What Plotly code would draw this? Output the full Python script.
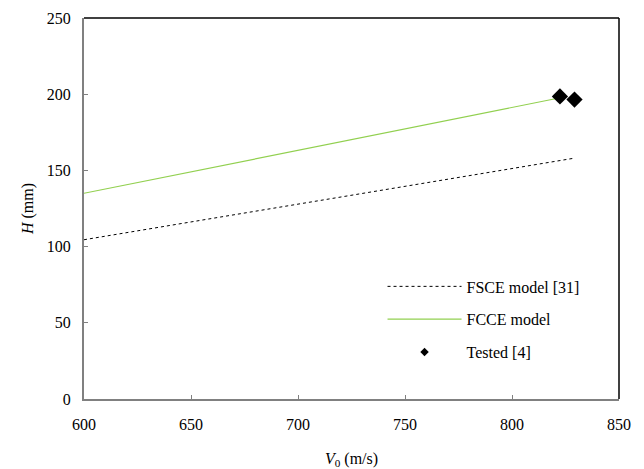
import plotly.graph_objects as go

fsce_x = [600, 829]
fsce_y = [104.5, 158]
fcce_x = [600, 822]
fcce_y = [135, 197.5]
test_x = [822.4, 829.2]
test_y = [198.5, 196.5]

x_ticks = [600, 650, 700, 750, 800, 850]
y_ticks = [0, 50, 100, 150, 200, 250]

font = "Liberation Serif"

fig = go.Figure()
fig.add_trace(go.Scatter(x=fsce_x, y=fsce_y, mode="lines", name="FSCE model [31]",
                         legendgroup="a",
                         line=dict(color="black", width=1, dash="dot")))
fig.add_trace(go.Scatter(x=fcce_x, y=fcce_y, mode="lines", name="FCCE model",
                         legendgroup="b",
                         line=dict(color="#92D050", width=1.2)))
fig.add_trace(go.Scatter(x=test_x, y=test_y, mode="markers", name="Tested [4]",
                         showlegend=False,
                         marker=dict(symbol="diamond", size=12.5, color="black")))
# legend entry with the small legend symbol
fig.add_trace(go.Scatter(x=[None], y=[None], mode="markers", name="Tested [4]",
                         legendgroup="c",
                         marker=dict(symbol="diamond", size=6.5, color="black")))

fig.update_layout(
    width=644, height=469,
    margin=dict(l=84, r=25, t=18, b=70),
    paper_bgcolor="white", plot_bgcolor="white",
    font=dict(family=font, size=16, color="black"),
    showlegend=True,
    legend=dict(x=0.558, y=0.34, xanchor="left", yanchor="top",
                bgcolor="rgba(0,0,0,0)", itemwidth=74, tracegroupgap=9,
                font=dict(family=font, size=16)),
    xaxis=dict(range=[600, 850], tickvals=x_ticks, showgrid=False, zeroline=False,
               showline=True, linecolor="#808080", linewidth=2,
               ticks="inside", ticklen=4, tickcolor="#808080",
               ticklabelstandoff=10, automargin=False,
               tickfont=dict(family=font, size=16),
               title=dict(text="<i>V</i><sub>0</sub> (m/s)", font=dict(family=font, size=16), standoff=22)),
    yaxis=dict(range=[0, 250], tickvals=y_ticks, showgrid=False, zeroline=False,
               showline=True, linecolor="#808080", linewidth=2,
               ticks="inside", ticklen=4, tickcolor="#808080",
               ticklabelstandoff=8, automargin=False,
               tickfont=dict(family=font, size=16),
               title=dict(text="<i>H</i> (mm)", font=dict(family=font, size=16), standoff=9)),
    shapes=[
        dict(type="line", xref="paper", yref="paper", x0=0, x1=1, y0=1, y1=1,
             line=dict(color="black", width=1.5)),
        dict(type="line", xref="paper", yref="paper", x0=1, x1=1, y0=0, y1=1,
             line=dict(color="black", width=1.5)),
    ],
)

fig.write_html("out.html")
